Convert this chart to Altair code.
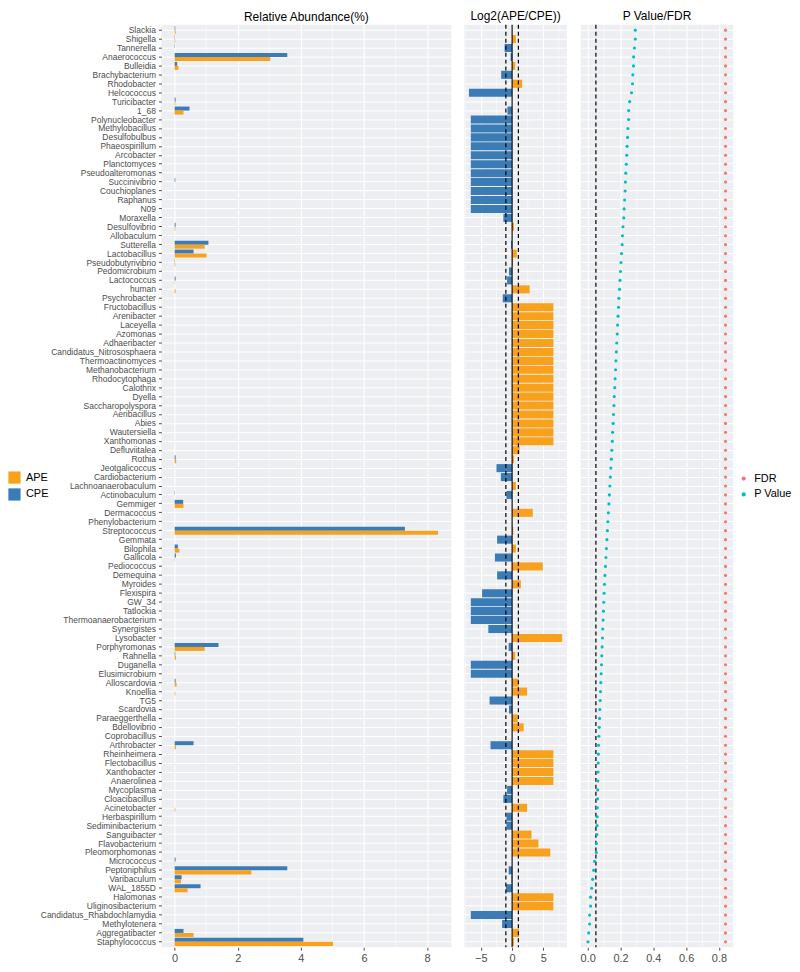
import altair as alt
import pandas as pd

genera = [
    "Slackia", "Shigella", "Tannerella", "Anaerococcus", "Bulleidia", "Brachybacterium",
    "Rhodobacter", "Helcococcus", "Turicibacter", "1_68", "Polynucleobacter", "Methylobacillus",
    "Desulfobulbus", "Phaeospirillum", "Arcobacter", "Planctomyces", "Pseudoalteromonas",
    "Succinivibrio", "Couchioplanes", "Raphanus", "N09", "Moraxella", "Desulfovibrio",
    "Allobaculum", "Sutterella", "Lactobacillus", "Pseudobutyrivibrio", "Pedomicrobium",
    "Lactococcus", "human", "Psychrobacter", "Fructobacillus", "Arenibacter", "Laceyella",
    "Azomonas", "Adhaeribacter", "Candidatus_Nitrososphaera", "Thermoactinomyces",
    "Methanobacterium", "Rhodocytophaga", "Calothrix", "Dyella", "Saccharopolyspora",
    "Aeribacillus", "Abies", "Wautersiella", "Xanthomonas", "Defluviitalea", "Rothia",
    "Jeotgalicoccus", "Cardiobacterium", "Lachnoanaerobaculum", "Actinobaculum", "Gemmiger",
    "Dermacoccus", "Phenylobacterium", "Streptococcus", "Gemmata", "Bilophila", "Gallicola",
    "Pediococcus", "Demequina", "Myroides", "Flexispira", "GW_34", "Tatlockia",
    "Thermoanaerobacterium", "Synergistes", "Lysobacter", "Porphyromonas", "Rahnella",
    "Duganella", "Elusimicrobium", "Alloscardovia", "Knoellia", "TG5", "Scardovia",
    "Paraeggerthella", "Bdellovibrio", "Coprobacillus", "Arthrobacter", "Rheinheimera",
    "Flectobacillus", "Xanthobacter", "Anaerolinea", "Mycoplasma", "Cloacibacillus",
    "Acinetobacter", "Herbaspirillum", "Sediminibacterium", "Sanguibacter", "Flavobacterium",
    "Pleomorphomonas", "Micrococcus", "Peptoniphilus", "Varibaculum", "WAL_1855D",
    "Halomonas", "Uliginosibacterium", "Candidatus_Rhabdochlamydia", "Methylotenera",
    "Aggregatibacter", "Staphylococcus",
]

cpe = [
    0.02, 0.01, 0.01, 3.57, 0.08, 0, 0, 0, 0.03, 0.47,
    0, 0, 0, 0, 0, 0, 0, 0.02, 0, 0,
    0, 0, 0.03, 0, 1.07, 0.6, 0.01, 0, 0.03, 0,
    0, 0, 0, 0, 0, 0, 0, 0, 0, 0,
    0, 0, 0, 0, 0, 0, 0, 0, 0.03, 0,
    0, 0, 0.01, 0.27, 0, 0, 7.3, 0, 0.1, 0.04,
    0, 0, 0, 0, 0, 0, 0, 0, 0, 1.39,
    0.02, 0, 0, 0.03, 0, 0, 0, 0, 0, 0,
    0.6, 0, 0, 0, 0, 0, 0, 0, 0, 0,
    0, 0, 0, 0.03, 3.57, 0.22, 0.82, 0, 0, 0,
    0, 0.28, 4.08,
]

ape = [
    0.03, 0.02, 0, 3.03, 0.12, 0, 0, 0, 0.02, 0.28,
    0, 0, 0, 0, 0, 0, 0, 0, 0, 0,
    0, 0, 0.02, 0, 0.95, 1.01, 0.02, 0, 0.01, 0.03,
    0, 0, 0, 0, 0, 0, 0, 0, 0, 0,
    0, 0, 0, 0, 0, 0, 0, 0, 0.05, 0,
    0, 0, 0, 0.28, 0, 0, 8.35, 0, 0.15, 0.01,
    0, 0, 0, 0, 0, 0, 0, 0, 0, 0.95,
    0.04, 0, 0, 0.06, 0.02, 0, 0, 0, 0, 0,
    0.04, 0, 0, 0, 0, 0, 0, 0.02, 0, 0,
    0, 0, 0, 0.01, 2.43, 0.2, 0.41, 0, 0, 0,
    0, 0.6, 5.02,
]

log2fc = [
    0, 0.6, -1.2, -0.24, 0.5, -1.75, 1.6, -6.9, 0, -0.75,
    -6.6, -6.6, -6.6, -6.6, -6.6, -6.6, -6.6, -6.6, -6.6, -6.6,
    -6.6, -1.4, 0.3, 0, -0.17, 0.75, 0.15, -0.5, -0.8, 2.8,
    -1.5, 6.6, 6.6, 6.6, 6.6, 6.6, 6.6, 6.6, 6.6, 6.6,
    6.6, 6.6, 6.6, 6.6, 6.6, 6.6, 6.6, 1.2, 0.3, -2.5,
    -1.8, 0.6, -0.9, 0.05, 3.3, 0, 0.19, -2.4, 0.6, -2.75,
    4.9, -2.4, 1.4, -4.8, -6.6, -6.6, -6.6, -3.8, 8.0, -0.55,
    0.5, -6.6, -6.6, 1.05, 2.4, -3.6, -0.5, 0.9, 1.85, 0,
    -3.45, 6.6, 6.6, 6.6, 6.6, -0.8, -1.4, 2.4, -0.9, -0.9,
    3.1, 4.2, 6.1, 0, -0.55, -0.1, -1.0, 6.6, 6.6, -6.6,
    -1.6, 1.1, 0.3,
]

pval = [
    0.29, 0.29, 0.285, 0.28, 0.279, 0.275, 0.273, 0.267, 0.256, 0.25, 0.25,
    0.245, 0.243, 0.24, 0.238, 0.235, 0.232, 0.23, 0.228, 0.225, 0.222,
    0.22, 0.215, 0.212, 0.21, 0.206, 0.203, 0.2, 0.197, 0.194, 0.19,
    0.188, 0.185, 0.182, 0.18, 0.177, 0.175, 0.172, 0.17, 0.167, 0.165,
    0.162, 0.16, 0.157, 0.155, 0.152, 0.15, 0.147, 0.144, 0.141, 0.138,
    0.135, 0.132, 0.129, 0.126, 0.123, 0.12, 0.117, 0.114, 0.111, 0.108,
    0.105, 0.102, 0.1, 0.098, 0.096, 0.094, 0.092, 0.09, 0.088, 0.086,
    0.084, 0.082, 0.08, 0.078, 0.076, 0.074, 0.072, 0.07, 0.068, 0.066,
    0.065, 0.064, 0.063, 0.062, 0.061, 0.06, 0.059, 0.058, 0.057, 0.056,
    0.053, 0.053, 0.042, 0.036, 0.03, 0.024, 0.018, 0.018, 0.012, 0.012, 0.006, 0.002,
]

fdr = [
    0.84, 0.84, 0.84, 0.84, 0.84, 0.84, 0.84, 0.84, 0.84, 0.84,
    0.84, 0.84, 0.84, 0.84, 0.84, 0.84, 0.84, 0.84, 0.84, 0.84,
    0.84, 0.84, 0.84, 0.84, 0.84, 0.84, 0.84, 0.84, 0.84, 0.84,
    0.84, 0.84, 0.84, 0.84, 0.84, 0.84, 0.84, 0.84, 0.84, 0.84,
    0.84, 0.84, 0.84, 0.84, 0.84, 0.84, 0.84, 0.84, 0.84, 0.84,
    0.84, 0.84, 0.84, 0.84, 0.84, 0.84, 0.84, 0.84, 0.84, 0.84,
    0.84, 0.84, 0.84, 0.84, 0.84, 0.84, 0.84, 0.84, 0.84, 0.84,
    0.84, 0.84, 0.84, 0.84, 0.84, 0.84, 0.84, 0.84, 0.84, 0.84,
    0.84, 0.84, 0.84, 0.84, 0.84, 0.84, 0.84, 0.84, 0.84, 0.84,
    0.84, 0.84, 0.84, 0.84, 0.84, 0.84, 0.84, 0.84, 0.84, 0.84,
    0.84, 0.84, 0.84,
]

groups = ["APE", "CPE"]
group_colors = ["#F8A11C", "#3B7BB6"]
types = ["FDR", "P Value"]
type_colors = ["#F8766D", "#00BFC4"]

ticks1 = [0, 2, 4, 6, 8]
minor1 = [1, 3, 5, 7]
ticks2 = [-5, 0, 5]
minor2 = [-7.5, -2.5, 2.5, 7.5]
ticks3 = [0.0, 0.2, 0.4, 0.6, 0.8]
minor3 = [0.1, 0.3, 0.5, 0.7]
fc_dashed = [-1, 1]
fc_zero = [0]
p_cut = [0.05]

n = len(genera)
ab = pd.DataFrame({"Genus": genera * 2, "Group": ["CPE"] * n + ["APE"] * n, "Value": cpe + ape})
lf = pd.DataFrame({"Genus": genera, "LFC": log2fc,
                   "Group": ["APE" if v > 0 else "CPE" for v in log2fc]})
pv = pd.DataFrame({"Genus": genera * 2, "Type": ["FDR"] * n + ["P Value"] * n, "Value": fdr + pval})

FONT = "Liberation Sans"
GREY = "#4D4D4D"
H = 926


def ysc():
    return alt.Scale(type="band", domain=genera, paddingInner=0.1, paddingOuter=0.15)


yax_labels = alt.Axis(title=None, labelFontSize=8.5, labelColor=GREY, labelFont=FONT,
                      tickColor=GREY, tickSize=3, labelPadding=3, domain=False, grid=True,
                      gridColor="white", gridWidth=1, bandPosition=0.5, labelOverlap=False)
yax_none = alt.Axis(title=None, labels=False, ticks=False, domain=False, grid=True,
                    gridColor="white", gridWidth=1, bandPosition=0.5)


def xaxis(vals, fmt):
    return alt.Axis(title=None, values=vals, format=fmt, labelFontSize=11, labelColor=GREY,
                    labelFont=FONT, tickColor=GREY, tickSize=3, labelPadding=2, domain=False,
                    grid=True, gridColor="white", gridWidth=1.1, labelOverlap=False,
                    labelFlush=False)


def title(t):
    return alt.TitleParams(t, fontSize=12, fontWeight="normal", font=FONT, color="black",
                           offset=1, anchor="middle")


grp_scale = alt.Scale(domain=groups, range=group_colors)

# Panel 1: relative abundance
xs1 = alt.Scale(domain=[-0.42, 8.77], nice=False, zero=False)
ax1 = xaxis(ticks1, "d")
m1 = alt.Chart(pd.DataFrame({"v": minor1})).mark_rule(color="white", strokeWidth=0.5).encode(
    x=alt.X("v:Q", scale=xs1, axis=ax1))
b1 = alt.Chart(ab).mark_bar().encode(
    y=alt.Y("Genus:N", scale=ysc(), sort=genera, axis=yax_labels),
    yOffset=alt.YOffset("Group:N", sort=["CPE", "APE"], scale=alt.Scale(paddingInner=0)),
    x=alt.X("Value:Q", scale=xs1, axis=ax1),
    color=alt.Color("Group:N", scale=grp_scale,
                    legend=alt.Legend(title=None, orient="none", legendX=-154, legendY=448,
                                      symbolType="square", symbolSize=150, symbolStrokeWidth=0,
                                      labelFontSize=11, labelFont=FONT, labelColor="black",
                                      rowPadding=4, padding=0, labelOffset=5)),
)
p1 = alt.layer(m1, b1).properties(width=291, height=H, title=title("Relative Abundance(%)"))

# Panel 2: log2 fold change
xs2 = alt.Scale(domain=[-7.65, 8.75], nice=False, zero=False)
ax2 = xaxis(ticks2, "d")
m2 = alt.Chart(pd.DataFrame({"v": minor2})).mark_rule(color="white", strokeWidth=0.5).encode(
    x=alt.X("v:Q", scale=xs2, axis=ax2))
b2 = alt.Chart(lf).mark_bar().encode(
    y=alt.Y("Genus:N", scale=ysc(), sort=genera, axis=yax_none),
    x=alt.X("LFC:Q", scale=xs2, axis=ax2),
    color=alt.Color("Group:N", scale=grp_scale, legend=None),
)
r2d = alt.Chart(pd.DataFrame({"v": fc_dashed})).mark_rule(
    color="black", strokeWidth=1.2, strokeDash=[4, 3]).encode(x=alt.X("v:Q", scale=xs2, axis=ax2))
r2z = alt.Chart(pd.DataFrame({"v": fc_zero})).mark_rule(
    color="black", strokeWidth=1.1).encode(x=alt.X("v:Q", scale=xs2, axis=ax2))
p2 = alt.layer(m2, b2, r2d, r2z).properties(width=103, height=H, title=title("Log2(APE/CPE))"))

# Panel 3: P value / FDR
xs3 = alt.Scale(domain=[-0.042, 0.887], nice=False, zero=False)
ax3 = xaxis(ticks3, ".1f")
m3 = alt.Chart(pd.DataFrame({"v": minor3})).mark_rule(color="white", strokeWidth=0.5).encode(
    x=alt.X("v:Q", scale=xs3, axis=ax3))
r3 = alt.Chart(pd.DataFrame({"v": p_cut})).mark_rule(
    color="black", strokeWidth=1.2, strokeDash=[4, 3]).encode(x=alt.X("v:Q", scale=xs3, axis=ax3))
pt3 = alt.Chart(pv).mark_point(filled=True, size=10, opacity=1).encode(
    y=alt.Y("Genus:N", scale=ysc(), sort=genera, axis=yax_none),
    x=alt.X("Value:Q", scale=xs3, axis=ax3),
    color=alt.Color("Type:N", scale=alt.Scale(domain=types, range=type_colors),
                    legend=alt.Legend(title=None, orient="none", legendX=158, legendY=450,
                                      symbolType="circle", symbolSize=18, symbolStrokeWidth=0,
                                      labelFontSize=11, labelFont=FONT, labelColor="black",
                                      rowPadding=4, padding=0, labelOffset=5)),
)
p3 = alt.layer(m3, r3, pt3).properties(width=153, height=H, title=title("P Value/FDR"))

chart = (
    alt.hconcat(p1, p2, p3, spacing=13)
    .resolve_scale(color="independent", x="independent", y="independent")
    .properties(padding={"top": 0, "left": 0, "right": 0, "bottom": 0})
    .configure_view(fill="#EDEEF1", stroke=None)
)

chart.save("out.html", embed_options={"renderer": "svg", "actions": False})
